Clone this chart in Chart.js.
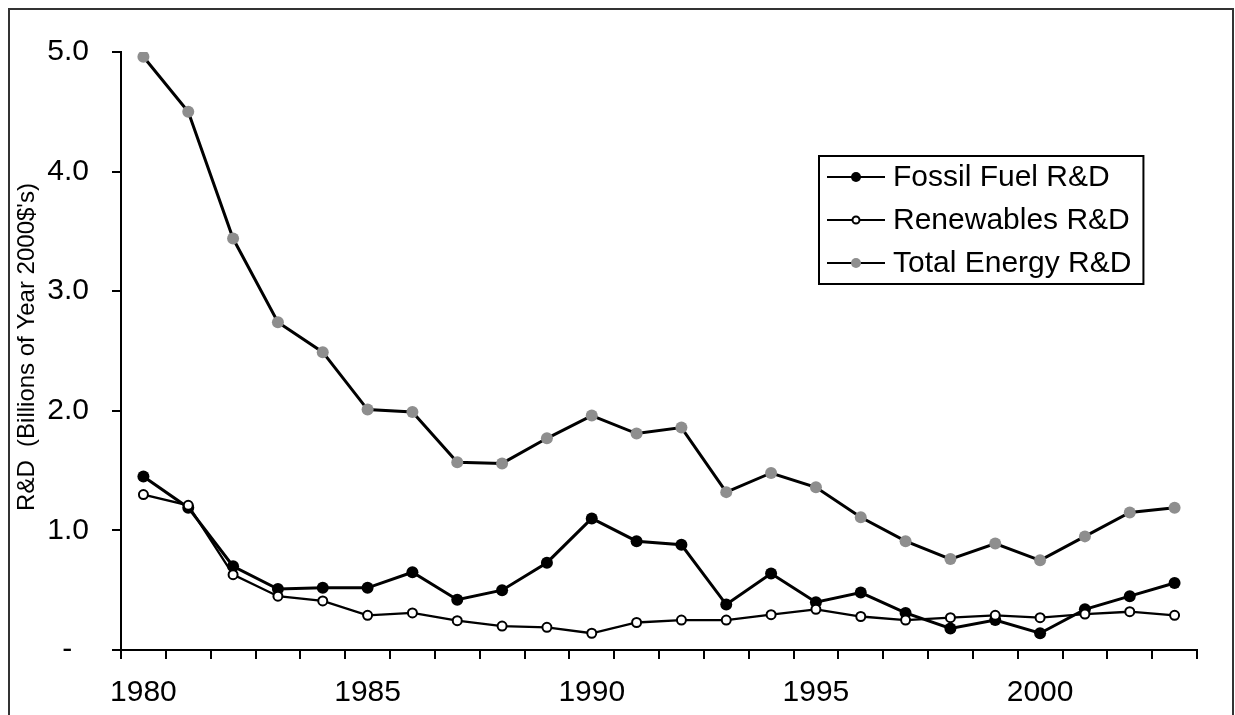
<!DOCTYPE html>
<html>
<head>
<meta charset="utf-8">
<script src="https://cdn.jsdelivr.net/npm/chart.js@4.4.1/dist/chart.umd.min.js"></script>
<style>
  html, body { margin: 0; padding: 0; background: #fff; }
  #wrap { position: relative; width: 1235px; height: 715px; overflow: hidden; }
</style>
</head>
<body>
<div id="wrap"><canvas id="c"></canvas></div>
<script>
// ---- data ----
const years = ['1980','1981','1982','1983','1984','1985','1986','1987','1988','1989','1990','1991',
               '1992','1993','1994','1995','1996','1997','1998','1999','2000','2001','2002','2003'];
const fossilFuel = [1.45,1.19,0.70,0.51,0.52,0.52,0.65,0.42,0.50,0.73,1.10,0.91,
                    0.88,0.38,0.64,0.40,0.48,0.31,0.18,0.25,0.14,0.34,0.45,0.56];
const renewables = [1.30,1.21,0.63,0.45,0.41,0.29,0.31,0.245,0.20,0.19,0.14,0.23,
                    0.25,0.25,0.295,0.34,0.28,0.25,0.27,0.29,0.27,0.30,0.32,0.29];
const totalEnergy = [4.96,4.50,3.44,2.74,2.49,2.01,1.99,1.57,1.56,1.77,1.96,1.81,
                     1.86,1.32,1.48,1.36,1.11,0.91,0.76,0.89,0.75,0.95,1.15,1.19];
const seriesNames = ['Fossil Fuel R&D','Renewables R&D','Total Energy R&D'];
const yTickValues = [0,1,2,3,4,5];
const yTickLabels = ['-  ','1.0','2.0','3.0','4.0','5.0'];
const labeledYears = ['1980','1985','1990','1995','2000'];
const yAxisTitle = "R&D  (Billions of Year 2000$'s)";

const FONT = "'Liberation Sans', Arial, sans-serif";
const GRAY = '#8e8e8e';

const legendAndFrame = {
  id: 'legendAndFrame',
  beforeDraw(chart) {
    const ctx = chart.ctx;
    ctx.save();
    ctx.fillStyle = '#fff';
    ctx.fillRect(0, 0, chart.width, chart.height);
    ctx.strokeStyle = '#333';
    ctx.lineWidth = 2;
    ctx.strokeRect(9, 9, 1224, 740);
    ctx.restore();
  },
  afterDraw(chart) {
    const ctx = chart.ctx;
    ctx.save();
    // y-axis title
    ctx.translate(27, 347);
    ctx.rotate(-Math.PI / 2);
    ctx.font = '24px ' + FONT;
    ctx.fillStyle = '#000';
    ctx.textAlign = 'center';
    ctx.textBaseline = 'middle';
    ctx.fillText(yAxisTitle, 0, 0);
    ctx.restore();

    // legend
    ctx.save();
    ctx.font = '30px ' + FONT;
    const textX = 893;
    let maxW = 0;
    const order = [0, 1, 2];
    order.forEach(i => { maxW = Math.max(maxW, ctx.measureText(chart.data.datasets[i].label).width); });
    const bx = 819, by = 156, bh = 128;
    const bw = textX + maxW + 12 - bx;
    ctx.fillStyle = '#fff';
    ctx.fillRect(bx, by, bw, bh);
    ctx.strokeStyle = '#000';
    ctx.lineWidth = 2;
    ctx.strokeRect(bx, by, bw, bh);
    const rows = [177, 220, 263];
    order.forEach((i, k) => {
      const ds = chart.data.datasets[i];
      const y = rows[k];
      const hollow = ds.pointBorderColor !== ds.pointBackgroundColor;
      ctx.strokeStyle = '#000';
      ctx.lineWidth = 2;
      ctx.beginPath();
      ctx.moveTo(827, y);
      ctx.lineTo(885, y);
      ctx.stroke();
      ctx.beginPath();
      ctx.arc(856, y, hollow ? 3.5 : 5, 0, Math.PI * 2);
      ctx.fillStyle = ds.pointBackgroundColor;
      ctx.fill();
      if (hollow) {
        ctx.lineWidth = 2;
        ctx.strokeStyle = ds.pointBorderColor;
        ctx.stroke();
      }
      ctx.fillStyle = '#000';
      ctx.textAlign = 'left';
      ctx.textBaseline = 'middle';
      ctx.fillText(ds.label, textX, y + 1);
    });
    ctx.restore();
  }
};

new Chart(document.getElementById('c'), {
  type: 'line',
  data: {
    labels: years,
    datasets: [
      {
        label: seriesNames[0], data: fossilFuel, order: 1,
        borderColor: '#000', borderWidth: 3,
        pointBackgroundColor: '#000', pointBorderColor: '#000',
        pointRadius: 6, pointBorderWidth: 0, tension: 0
      },
      {
        label: seriesNames[1], data: renewables, order: 0,
        borderColor: '#000', borderWidth: 2.3,
        pointBackgroundColor: '#fff', pointBorderColor: '#000',
        pointRadius: 4.5, pointBorderWidth: 2, tension: 0
      },
      {
        label: seriesNames[2], data: totalEnergy, order: 2,
        borderColor: '#000', borderWidth: 3,
        pointBackgroundColor: GRAY, pointBorderColor: GRAY,
        pointRadius: 6, pointBorderWidth: 0, tension: 0
      }
    ]
  },
  options: {
    responsive: true,
    maintainAspectRatio: false,
    devicePixelRatio: 1,
    animation: false,
    events: [],
    layout: { padding: { top: 52, right: 38, left: 0, bottom: 0 } },
    plugins: { legend: { display: false }, tooltip: { enabled: false }, title: { display: false } },
    scales: {
      x: {
        type: 'category',
        offset: true,
        grid: { display: true, offset: true, drawOnChartArea: false, drawTicks: true,
                tickLength: 9, color: '#000', lineWidth: 2 },
        border: { display: true, color: '#000', width: 2 },
        ticks: {
          autoSkip: false, maxRotation: 0, minRotation: 0, padding: 16,
          color: '#000', font: { family: FONT, size: 30 },
          callback: function(v, i) { return labeledYears.includes(years[i]) ? years[i] : ''; }
        },
        afterFit(scale) { scale.height = 65; }
      },
      y: {
        min: 0, max: 5,
        afterBuildTicks(scale) { scale.ticks = yTickValues.map(v => ({ value: v })); },
        grid: { display: true, drawOnChartArea: false, drawTicks: true,
                tickLength: 9, color: '#000', lineWidth: 2 },
        border: { display: true, color: '#000', width: 2 },
        ticks: {
          padding: 23, color: '#000', font: { family: FONT, size: 30 },
          callback: function(v) { const i = yTickValues.indexOf(v); return i >= 0 ? yTickLabels[i] : ''; }
        },
        afterFit(scale) { scale.width = 121; }
      }
    }
  },
  plugins: [legendAndFrame]
});
</script>
</body>
</html>
